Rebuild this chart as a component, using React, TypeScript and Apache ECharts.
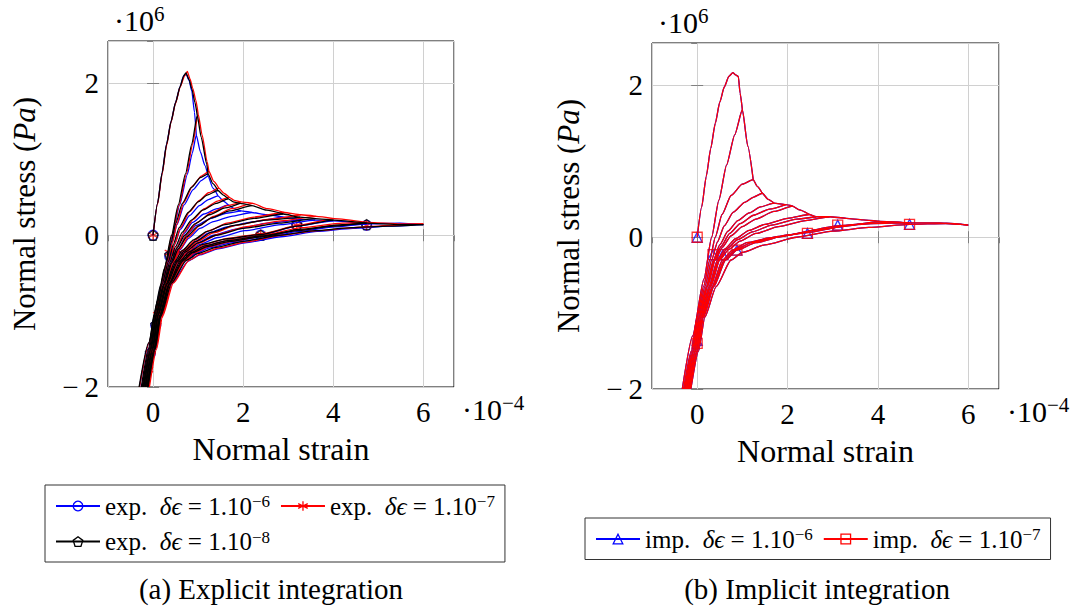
import React, { useEffect, useRef } from "react";
import * as echarts from "echarts";

type Pt = [number, number];

// x in units of 1e-4 (normal strain), y in units of 1e6 Pa (normal stress)

// Explicit integration, δϵ = 1e-6 (blue)
const exp6Curves: Pt[][] = [
  [[0,0],[0.1,0.42],[0.2,0.82],[0.3,1.2],[0.4,1.5],[0.5,1.75],[0.6,1.96],[0.68,2.1],[0.73,2.13],[0.8,2.04],[0.86,1.9],[0.92,1.62],[0.96,1.32]],
  [[-0.3,-2.0],[-0.09,-1.42],[0.11,-0.86],[0.27,-0.44],[0.43,0.0],[0.59,0.4],[0.76,0.8],[0.87,1.08],[0.96,1.32],[1.05,1.1],[1.15,0.92],[1.22,0.78]],
  [[-0.25,-2.0],[-0.09,-1.5],[0.03,-1.05],[0.18,-0.65],[0.32,-0.35],[0.42,-0.1],[0.53,0.14],[0.69,0.4],[0.89,0.6],[1.07,0.72],[1.22,0.78],[1.33,0.62],[1.44,0.52]],
  [[-0.23,-2.0],[-0.07,-1.5],[0.05,-1.05],[0.21,-0.65],[0.36,-0.35],[0.47,-0.13],[0.61,0.08],[0.81,0.26],[1.03,0.39],[1.23,0.47],[1.44,0.52],[1.56,0.45],[1.67,0.4]],
  [[-0.21,-2.0],[-0.05,-1.5],[0.07,-1.05],[0.24,-0.65],[0.4,-0.36],[0.53,-0.16],[0.68,0.02],[0.88,0.17],[1.13,0.28],[1.42,0.35],[1.67,0.4],[1.8,0.35],[1.95,0.32],[2.19,0.3]],
  [[-0.2,-2.0],[-0.04,-1.5],[0.08,-1.05],[0.255,-0.645],[0.42,-0.36],[0.56,-0.18],[0.73,-0.01],[0.96,0.13],[1.27,0.22],[1.62,0.29],[1.95,0.32]],
  [[-0.19,-2.0],[-0.03,-1.5],[0.09,-1.05],[0.27,-0.64],[0.45,-0.36],[0.6,-0.19],[0.79,-0.04],[1.04,0.09],[1.34,0.18],[1.74,0.25],[2.19,0.3],[2.52,0.27],[2.89,0.24]],
  [[-0.17,-2.0],[-0.01,-1.5],[0.11,-1.05],[0.3,-0.64],[0.51,-0.35],[0.69,-0.21],[0.94,-0.08],[1.24,0.03],[1.64,0.11],[2.24,0.18],[2.89,0.24],[3.26,0.21],[3.6,0.2]],
  [[-0.16,-2.0],[0.0,-1.5],[0.12,-1.05],[0.32,-0.64],[0.54,-0.35],[0.72,-0.22],[0.99,-0.1],[1.34,0.0],[1.84,0.08],[2.54,0.16],[3.26,0.21]],
  [[-0.15,-2.0],[0.01,-1.5],[0.13,-1.05],[0.34,-0.64],[0.57,-0.35],[0.76,-0.23],[1.04,-0.12],[1.44,-0.03],[2.04,0.06],[2.84,0.14],[3.6,0.2],[4.0,0.19]],
  [[-0.13,-2.0],[0.03,-1.5],[0.15,-1.06],[0.37,-0.64],[0.64,-0.34],[0.84,-0.24],[1.14,-0.14],[1.64,-0.07],[2.39,0.0],[3.19,0.12],[4.0,0.19],[4.74,0.15]],
  [[-0.12,-2.0],[0.04,-1.5],[0.165,-1.065],[0.385,-0.635],[0.67,-0.34],[0.88,-0.245],[1.19,-0.16],[1.69,-0.09],[2.42,-0.02],[3.3,0.07],[4.2,0.13],[4.74,0.15]],
  [[-0.11,-2.0],[0.05,-1.5],[0.18,-1.07],[0.4,-0.63],[0.7,-0.34],[0.92,-0.25],[1.24,-0.17],[1.74,-0.1],[2.44,-0.04],[3.24,0.05],[4.04,0.11],[4.74,0.15],[5.48,0.16],[6.0,0.14]],
  [[-0.1,-2.0],[0.06,-1.5],[0.19,-1.07],[0.43,-0.63],[0.78,-0.34],[1.04,-0.26],[1.44,-0.18],[2.04,-0.1],[2.84,-0.02],[3.64,0.05],[4.44,0.09],[5.24,0.12],[6.0,0.14]],
];

// Explicit integration, δϵ = 1e-7 (red)
const exp7Curves: Pt[][] = [
  [[0,0],[0.1,0.41],[0.2,0.8],[0.3,1.18],[0.4,1.49],[0.5,1.74],[0.6,1.95],[0.7,2.1],[0.76,2.16],[0.82,2.06],[0.88,1.94],[0.95,1.78],[1.0,1.6]],
  [[-0.3,-2.0],[-0.09,-1.42],[0.11,-0.86],[0.26,-0.44],[0.42,0.0],[0.58,0.4],[0.74,0.81],[0.88,1.2],[1.0,1.6],[1.09,1.32],[1.2,0.97],[1.24,0.84]],
  [[-0.24,-2.0],[-0.08,-1.5],[0.04,-1.05],[0.2,-0.65],[0.33,-0.35],[0.43,-0.1],[0.53,0.15],[0.68,0.43],[0.88,0.65],[1.07,0.78],[1.24,0.84],[1.35,0.71],[1.46,0.62]],
  [[-0.22,-2.0],[-0.06,-1.5],[0.06,-1.05],[0.23,-0.65],[0.37,-0.35],[0.48,-0.12],[0.61,0.1],[0.81,0.31],[1.03,0.46],[1.23,0.56],[1.46,0.62],[1.58,0.55],[1.69,0.5]],
  [[-0.2,-2.0],[-0.04,-1.5],[0.08,-1.05],[0.26,-0.65],[0.41,-0.36],[0.54,-0.15],[0.69,0.04],[0.89,0.21],[1.14,0.35],[1.43,0.45],[1.69,0.5],[1.8,0.46],[1.95,0.44],[2.21,0.42]],
  [[-0.19,-2.0],[-0.03,-1.5],[0.09,-1.05],[0.275,-0.645],[0.44,-0.36],[0.58,-0.17],[0.75,0.01],[0.98,0.17],[1.3,0.3],[1.65,0.39],[1.95,0.44]],
  [[-0.18,-2.0],[-0.02,-1.5],[0.1,-1.05],[0.29,-0.64],[0.46,-0.36],[0.6,-0.18],[0.79,-0.02],[1.04,0.13],[1.34,0.25],[1.74,0.35],[2.21,0.42],[2.54,0.35],[2.91,0.3]],
  [[-0.16,-2.0],[0.0,-1.5],[0.12,-1.05],[0.32,-0.64],[0.52,-0.35],[0.69,-0.2],[0.94,-0.06],[1.24,0.06],[1.64,0.16],[2.24,0.24],[2.91,0.3],[3.28,0.27],[3.62,0.25]],
  [[-0.15,-2.0],[0.01,-1.5],[0.135,-1.05],[0.34,-0.64],[0.55,-0.35],[0.73,-0.21],[0.99,-0.08],[1.34,0.03],[1.84,0.13],[2.54,0.21],[3.28,0.27]],
  [[-0.14,-2.0],[0.02,-1.5],[0.15,-1.05],[0.36,-0.64],[0.58,-0.35],[0.76,-0.22],[1.04,-0.1],[1.44,0.01],[2.04,0.11],[2.84,0.19],[3.62,0.25],[4.02,0.22]],
  [[-0.12,-2.0],[0.04,-1.5],[0.17,-1.06],[0.39,-0.64],[0.65,-0.33],[0.85,-0.22],[1.15,-0.12],[1.65,-0.04],[2.42,0.02],[3.22,0.13],[4.02,0.22],[4.76,0.17]],
  [[-0.11,-2.0],[0.05,-1.5],[0.18,-1.065],[0.405,-0.635],[0.68,-0.33],[0.89,-0.225],[1.2,-0.14],[1.7,-0.06],[2.44,0.0],[3.3,0.1],[4.2,0.16],[4.76,0.17]],
  [[-0.1,-2.0],[0.06,-1.5],[0.19,-1.07],[0.42,-0.63],[0.71,-0.33],[0.93,-0.23],[1.25,-0.15],[1.75,-0.08],[2.45,-0.01],[3.25,0.07],[4.05,0.13],[4.76,0.17],[5.5,0.15],[6.0,0.15]],
  [[-0.08,-2.0],[0.08,-1.5],[0.21,-1.07],[0.45,-0.63],[0.8,-0.33],[1.05,-0.25],[1.45,-0.17],[2.05,-0.09],[2.85,0.0],[3.65,0.06],[4.45,0.1],[5.25,0.13],[6.0,0.15]],
];

// Explicit integration, δϵ = 1e-8 (black)
const exp8Curves: Pt[][] = [
  [[0,0],[0.1,0.42],[0.2,0.82],[0.3,1.2],[0.4,1.5],[0.5,1.75],[0.6,1.96],[0.68,2.1],[0.73,2.14],[0.8,2.05],[0.86,1.93],[0.93,1.75],[0.98,1.58]],
  [[-0.31,-2.0],[-0.1,-1.42],[0.1,-0.86],[0.25,-0.44],[0.41,0.0],[0.56,0.4],[0.72,0.81],[0.86,1.2],[0.98,1.58],[1.07,1.29],[1.19,0.94],[1.22,0.81]],
  [[-0.26,-2.0],[-0.1,-1.5],[0.02,-1.05],[0.17,-0.65],[0.3,-0.35],[0.4,-0.1],[0.5,0.15],[0.65,0.42],[0.85,0.63],[1.05,0.76],[1.22,0.81],[1.33,0.68],[1.44,0.59]],
  [[-0.24,-2.0],[-0.08,-1.5],[0.04,-1.05],[0.2,-0.65],[0.34,-0.35],[0.45,-0.12],[0.58,0.1],[0.78,0.3],[1.0,0.44],[1.2,0.53],[1.44,0.59],[1.56,0.53],[1.67,0.48]],
  [[-0.22,-2.0],[-0.06,-1.5],[0.06,-1.05],[0.23,-0.65],[0.37,-0.36],[0.5,-0.15],[0.65,0.04],[0.85,0.2],[1.1,0.33],[1.4,0.42],[1.67,0.48],[1.78,0.44],[1.93,0.42],[2.19,0.39]],
  [[-0.21,-2.0],[-0.05,-1.5],[0.07,-1.05],[0.245,-0.645],[0.4,-0.36],[0.53,-0.17],[0.7,0.0],[0.93,0.15],[1.25,0.27],[1.6,0.36],[1.93,0.42]],
  [[-0.2,-2.0],[-0.04,-1.5],[0.08,-1.05],[0.26,-0.64],[0.42,-0.36],[0.56,-0.18],[0.75,-0.02],[1.0,0.12],[1.3,0.23],[1.7,0.32],[2.19,0.39],[2.52,0.33],[2.89,0.28]],
  [[-0.18,-2.0],[-0.02,-1.5],[0.1,-1.05],[0.29,-0.64],[0.48,-0.35],[0.65,-0.2],[0.9,-0.06],[1.2,0.05],[1.6,0.14],[2.2,0.22],[2.89,0.28],[3.26,0.24],[3.6,0.22]],
  [[-0.17,-2.0],[-0.01,-1.5],[0.11,-1.05],[0.305,-0.64],[0.51,-0.35],[0.69,-0.21],[0.95,-0.08],[1.3,0.04],[1.8,0.13],[2.5,0.2],[3.26,0.24]],
  [[-0.16,-2.0],[0.0,-1.5],[0.12,-1.05],[0.32,-0.64],[0.54,-0.35],[0.72,-0.22],[1.0,-0.1],[1.4,0.0],[2.0,0.09],[2.8,0.16],[3.6,0.22],[4.0,0.2]],
  [[-0.14,-2.0],[0.02,-1.5],[0.14,-1.06],[0.35,-0.64],[0.6,-0.34],[0.8,-0.22],[1.1,-0.12],[1.6,-0.05],[2.39,0.01],[3.2,0.12],[4.0,0.2],[4.74,0.16]],
  [[-0.13,-2.0],[0.03,-1.5],[0.15,-1.065],[0.365,-0.635],[0.63,-0.34],[0.84,-0.23],[1.15,-0.14],[1.65,-0.07],[2.4,-0.01],[3.3,0.08],[4.2,0.14],[4.74,0.16]],
  [[-0.12,-2.0],[0.04,-1.5],[0.16,-1.07],[0.38,-0.63],[0.66,-0.34],[0.88,-0.23],[1.2,-0.15],[1.7,-0.08],[2.4,-0.02],[3.2,0.06],[4.0,0.12],[4.74,0.16],[5.48,0.14],[6.0,0.14]],
  [[-0.11,-2.0],[0.05,-1.5],[0.17,-1.07],[0.41,-0.63],[0.74,-0.33],[1.0,-0.24],[1.4,-0.16],[2.0,-0.08],[2.8,0.0],[3.6,0.06],[4.4,0.1],[5.2,0.12],[6.0,0.14]],
];

// Implicit integration (δϵ = 1e-6 and 1e-7 coincide)
const impCurves: Pt[][] = [
  [[0,0],[0.1,0.4],[0.2,0.8],[0.3,1.17],[0.4,1.5],[0.5,1.78],[0.6,1.98],[0.7,2.12],[0.79,2.17],[0.85,2.14],[0.91,2.12],[0.95,1.9],[1.0,1.68]],
  [[-0.33,-2.0],[-0.1,-1.3],[0.15,-0.55],[0.32,0.0],[0.48,0.49],[0.65,0.95],[0.83,1.35],[1.0,1.68],[1.12,1.2],[1.24,0.76]],
  [[-0.3,-2.0],[-0.13,-1.5],[0.0,-1.05],[0.14,-0.65],[0.28,-0.3],[0.4,0.0],[0.55,0.3],[0.75,0.55],[1.0,0.7],[1.24,0.76],[1.33,0.67],[1.44,0.58]],
  [[-0.28,-2.0],[-0.11,-1.5],[0.02,-1.05],[0.17,-0.65],[0.32,-0.3],[0.45,-0.06],[0.6,0.15],[0.8,0.33],[1.05,0.46],[1.25,0.53],[1.44,0.58],[1.57,0.5],[1.7,0.45]],
  [[-0.26,-2.0],[-0.09,-1.5],[0.04,-1.05],[0.2,-0.65],[0.36,-0.3],[0.5,-0.1],[0.68,0.08],[0.9,0.22],[1.15,0.32],[1.4,0.4],[1.7,0.45],[1.96,0.43],[2.11,0.41]],
  [[-0.25,-2.0],[-0.08,-1.5],[0.05,-1.05],[0.215,-0.65],[0.38,-0.3],[0.53,-0.12],[0.72,0.05],[0.95,0.18],[1.25,0.29],[1.6,0.37],[1.96,0.43]],
  [[-0.24,-2.0],[-0.07,-1.5],[0.06,-1.05],[0.23,-0.65],[0.4,-0.3],[0.56,-0.13],[0.75,0.02],[1.0,0.14],[1.3,0.24],[1.7,0.34],[2.11,0.41],[2.26,0.36],[2.48,0.3]],
  [[-0.22,-2.0],[-0.05,-1.5],[0.08,-1.05],[0.26,-0.65],[0.45,-0.3],[0.62,-0.15],[0.85,-0.02],[1.15,0.09],[1.5,0.17],[2.0,0.25],[2.48,0.3],[2.63,0.27],[2.93,0.27]],
  [[-0.21,-2.0],[-0.04,-1.5],[0.09,-1.05],[0.28,-0.65],[0.48,-0.3],[0.66,-0.15],[0.9,-0.03],[1.22,0.07],[1.65,0.16],[2.2,0.24],[2.63,0.27]],
  [[-0.2,-2.0],[-0.03,-1.5],[0.1,-1.05],[0.3,-0.65],[0.5,-0.3],[0.7,-0.16],[0.95,-0.05],[1.3,0.05],[1.8,0.14],[2.4,0.22],[2.93,0.27],[3.3,0.25],[3.67,0.23],[4.04,0.21]],
  [[-0.18,-2.0],[-0.01,-1.5],[0.12,-1.05],[0.33,-0.65],[0.56,-0.3],[0.78,-0.17],[1.1,-0.07],[1.6,-0.01],[2.44,0.06],[3.2,0.14],[4.04,0.21],[4.7,0.19]],
  [[-0.17,-2.0],[0.0,-1.5],[0.13,-1.05],[0.35,-0.65],[0.6,-0.3],[0.83,-0.17],[1.2,-0.07],[1.8,0.01],[2.7,0.1],[3.5,0.17],[4.3,0.2],[4.7,0.19]],
  [[-0.16,-2.0],[0.01,-1.5],[0.14,-1.05],[0.37,-0.65],[0.63,-0.3],[0.88,-0.17],[1.3,-0.07],[2.0,0.03],[3.11,0.15],[3.9,0.18],[4.7,0.19],[5.2,0.19],[5.52,0.185],[6.0,0.16]],
  [[-0.14,-2.0],[0.03,-1.5],[0.17,-1.05],[0.42,-0.65],[0.75,-0.3],[1.0,-0.2],[1.5,-0.1],[2.2,0.0],[3.0,0.08],[3.8,0.13],[4.7,0.17],[5.5,0.18],[6.0,0.16]],
];

// Sparse marks
const exp6Marks: Pt[] = [[0,0],[0.37,-0.28],[0.57,-0.29],[0.83,-0.23],[2.39,0.0],[3.19,0.13],[4.74,0.13],[0.06,-1.19],[-0.06,-1.56]];
const exp7Marks: Pt[] = [[0,0],[0.37,-0.23],[0.56,-0.23],[0.76,-0.24],[2.39,0.01],[3.19,0.13],[4.74,0.13],[0.11,-1.05],[-0.11,-1.77]];
const exp8Marks: Pt[] = [[0,0],[0.37,-0.26],[0.56,-0.27],[0.81,-0.2],[2.39,0.0],[3.19,0.14],[4.74,0.14],[0.06,-1.18],[-0.06,-1.55]];
const imp6Marks: Pt[] = [[0,0],[0,-1.36],[0.35,-0.23],[0.57,-0.23],[0.88,-0.17],[2.44,0.05],[3.11,0.16],[4.7,0.17]];
const imp7Marks: Pt[] = [[0,0],[0,-1.4],[0.35,-0.23],[0.57,-0.23],[0.88,-0.17],[2.44,0.05],[3.11,0.16],[4.7,0.17]];

const xRange = [-1, 6.68];
const yRange = [-2, 2.56];
const yTickStep = 2;

const FONT = '"Liberation Serif", "DejaVu Serif", serif';
const BLUE = "#0000ff";
const RED = "#ff0000";
const BLACK = "#000000";
const PENTAGON = "path://M5,0L9.76,3.45L7.94,9.05L2.06,9.05L0.24,3.45Z";
const ASTERISK = "path://M5,0L5,10M0.67,2.5L9.33,7.5M0.67,7.5L9.33,2.5";

const legendLabels: Record<string, string> = {
  exp6: "{t|exp.  }{m|δϵ}{t| = 1.10}{s|−6}",
  exp7: "{t|exp.  }{m|δϵ}{t| = 1.10}{s|−7}",
  exp8: "{t|exp.  }{m|δϵ}{t| = 1.10}{s|−8}",
  imp6: "{t|imp.  }{m|δϵ}{t| = 1.10}{s|−6}",
  imp7: "{t|imp.  }{m|δϵ}{t| = 1.10}{s|−7}",
};

function mk(color: string) {
  return { color: "transparent", borderColor: color, borderWidth: 1.3 };
}

function lines(curves: Pt[][], name: string, color: string, symbol: string, ax: number) {
  return curves.map((c) => ({
    type: "line",
    name,
    xAxisIndex: ax,
    yAxisIndex: ax,
    data: c,
    showSymbol: false,
    symbol,
    symbolSize: 9,
    smooth: 0.2,
    smoothMonotone: "x",
    lineStyle: { color, width: 1.3 },
    itemStyle: mk(color),
    silent: true,
    emphasis: { disabled: true },
  }));
}

function marks(data: Pt[], name: string, color: string, symbol: string, ax: number) {
  return {
    type: "scatter",
    name,
    xAxisIndex: ax,
    yAxisIndex: ax,
    data,
    symbol,
    symbolSize: 10,
    itemStyle: mk(color),
    silent: true,
    emphasis: { disabled: true },
  };
}

function axesFor(gridIndex: number) {
  const tick = { show: true, inside: true, length: 6, lineStyle: { color: "#808080", width: 1 } };
  const label = { color: "#000", fontFamily: FONT, fontSize: 29 };
  const x = [
    {
      type: "value", gridIndex, min: xRange[0], max: xRange[1], splitNumber: 4,
      axisLine: { show: false }, axisTick: tick,
      axisLabel: { ...label, margin: 10, showMinLabel: false, showMaxLabel: false },
      splitLine: { show: true, lineStyle: { color: "#d0d0d0", width: 1 } },
      name: "Normal strain", nameLocation: "middle", nameGap: 46,
      nameTextStyle: { color: "#000", fontFamily: FONT, fontSize: 32 },
    },
    {
      type: "value", gridIndex, position: "top", min: xRange[0], max: xRange[1], splitNumber: 4,
      axisLine: { show: false }, axisTick: tick, axisLabel: { show: false }, splitLine: { show: false },
    },
  ];
  const y = [
    {
      type: "value", gridIndex, min: yRange[0], max: yRange[1], interval: yTickStep,
      axisLine: { show: false }, axisTick: tick,
      axisLabel: {
        ...label, margin: 9, showMaxLabel: false,
        formatter: (v: number) => (v < 0 ? "−\u2009" + Math.abs(v) : String(v)),
      },
      splitLine: { show: true, lineStyle: { color: "#d0d0d0", width: 1 } },
      name: "Normal stress ({i|Pa})", nameLocation: "middle", nameGap: 68,
      nameTextStyle: {
        color: "#000", fontFamily: FONT, fontSize: 31,
        rich: { i: { fontStyle: "italic", fontFamily: FONT, fontSize: 31, color: "#000" } },
      },
    },
    {
      type: "value", gridIndex, position: "right", min: yRange[0], max: yRange[1], interval: yTickStep,
      axisLine: { show: false }, axisTick: tick, axisLabel: { show: false }, splitLine: { show: false },
    },
  ];
  return { x, y };
}

function expo(x: number, y: number, sup: string) {
  return {
    type: "text",
    x,
    y,
    style: {
      text: "{a|·10}{s|" + sup + "}",
      fill: "#000",
      rich: {
        a: { fontSize: 30, fontFamily: FONT, fill: "#000", lineHeight: 34 },
        s: { fontSize: 21, fontFamily: FONT, fill: "#000", verticalAlign: "top", lineHeight: 21 },
      },
    },
  };
}

function caption(x: number, y: number, text: string) {
  return {
    type: "text",
    x,
    y,
    style: {
      text, fill: "#000", fontFamily: FONT, fontSize: 29,
      textAlign: "center", textVerticalAlign: "middle", align: "center", verticalAlign: "middle",
    },
  };
}

const legendText = {
  color: "#000",
  fontFamily: FONT,
  fontSize: 25,
  rich: {
    t: { fontSize: 25, fontFamily: FONT, color: "#000", lineHeight: 26 },
    m: { fontSize: 25, fontFamily: FONT, fontStyle: "italic", color: "#000", lineHeight: 26 },
    s: { fontSize: 17, fontFamily: FONT, color: "#000", verticalAlign: "top", lineHeight: 15 },
  },
};

export default function App() {
  const ref = useRef<HTMLDivElement>(null);
  useEffect(() => {
    if (!ref.current) return;
    const chart = echarts.init(ref.current, null, { renderer: "svg" });
    const a0 = axesFor(0);
    const a1 = axesFor(1);
    const option: any = {
      animation: false,
      backgroundColor: "#fff",
      grid: [
        { left: 108, top: 41, width: 346, height: 346, show: true, borderColor: "#000", borderWidth: 1, backgroundColor: "transparent" },
        { left: 652, top: 43, width: 347, height: 346, show: true, borderColor: "#000", borderWidth: 1, backgroundColor: "transparent" },
      ],
      xAxis: [...a0.x, ...a1.x],
      yAxis: [...a0.y, ...a1.y],
      legend: [
        {
          left: 45, top: 485, width: 480, orient: "horizontal",
          itemGap: 10, itemWidth: 44, itemHeight: 12,
          padding: [8, 10, 8, 10], borderColor: "#333", borderWidth: 1,
          selectedMode: false,
          data: [
            { name: "exp6", itemStyle: mk(BLUE) },
            { name: "exp7", itemStyle: mk(RED) },
            { name: "exp8", itemStyle: mk(BLACK) },
          ],
          formatter: (n: string) => legendLabels[n],
          textStyle: legendText,
        },
        {
          left: 585, top: 518, orient: "horizontal",
          itemGap: 10, itemWidth: 44, itemHeight: 12,
          padding: [8, 10, 8, 10], borderColor: "#333", borderWidth: 1,
          selectedMode: false,
          data: [
            { name: "imp6", itemStyle: mk(BLUE) },
            { name: "imp7", itemStyle: mk(RED) },
          ],
          formatter: (n: string) => legendLabels[n],
          textStyle: legendText,
        },
      ],
      graphic: [
        expo(114, 3, "6"),
        expo(658, 5, "6"),
        expo(462, 392, "−4"),
        expo(1007, 394, "−4"),
        caption(271, 589, "(a) Explicit integration"),
        caption(817, 589, "(b) Implicit integration"),
      ],
      series: [
        ...lines(exp6Curves, "exp6", BLUE, "circle", 0),
        ...lines(exp7Curves, "exp7", RED, ASTERISK, 0),
        ...lines(exp8Curves, "exp8", BLACK, PENTAGON, 0),
        marks(exp6Marks, "exp6", BLUE, "circle", 0),
        marks(exp7Marks, "exp7", RED, ASTERISK, 0),
        marks(exp8Marks, "exp8", BLACK, PENTAGON, 0),
        ...lines(impCurves, "imp6", BLUE, "triangle", 2),
        ...lines(impCurves, "imp7", RED, "rect", 2),
        marks(imp6Marks, "imp6", BLUE, "triangle", 2),
        marks(imp7Marks, "imp7", RED, "rect", 2),
      ],
    };
    chart.setOption(option);
    return () => chart.dispose();
  }, []);
  return (
    <div
      ref={ref}
      style={{ position: "absolute", left: 0, top: 0, width: 1080, height: 607 }}
    />
  );
}
